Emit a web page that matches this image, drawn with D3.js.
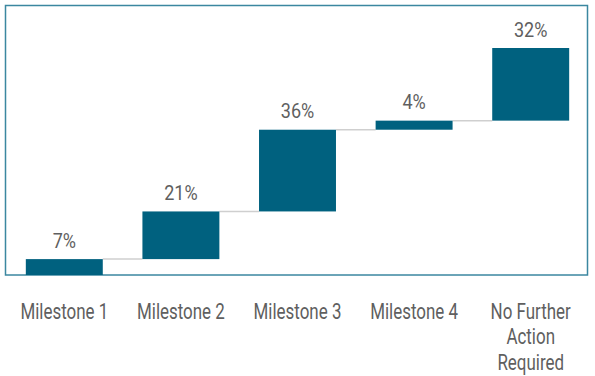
<!DOCTYPE html>
<html lang="en">
<head>
<meta charset="UTF-8">
<title>Waterfall</title>
<script src="https://cdnjs.cloudflare.com/ajax/libs/d3/7.8.5/d3.min.js"></script>
<style>
  body { margin: 0; background: #fff; }
  text { font-family: Roboto, "Noto Sans", sans-serif; font-weight: 400; fill: #5f5f5f; }
</style>
</head>
<body>
<div id="chart"></div>
<script>
  var categories = ["Milestone 1", "Milestone 2", "Milestone 3", "Milestone 4", "No Further Action Required"];
  var catLines = [["Milestone 1"], ["Milestone 2"], ["Milestone 3"], ["Milestone 4"], ["No Further", "Action", "Required"]];
  var values = [7, 21, 36, 4, 32];

  var width = 595, height = 376;

  // running totals for the floating bars
  var start = 0;
  var steps = values.map(function (v, i) {
    var s = { cat: categories[i], v: v, y0: start, y1: start + v };
    start += v;
    return s;
  });

  var x = d3.scaleBand()
    .domain(categories)
    .range([6, 589])
    .paddingInner(0.34)
    .paddingOuter(0.17);

  var y = d3.scaleLinear()
    .domain([0, 100])
    .range([275, 48]);

  var svg = d3.select("#chart")
    .append("svg")
    .attr("width", width)
    .attr("height", height);

  // frame
  svg.append("rect")
    .attr("x", 5.5)
    .attr("y", 5.5)
    .attr("width", 582)
    .attr("height", 269.5)
    .attr("fill", "none")
    .attr("stroke", "#3b87a0")
    .attr("stroke-width", 1.5);

  // connectors
  svg.selectAll("line.conn")
    .data(steps.slice(0, -1))
    .enter()
    .append("line")
    .attr("class", "conn")
    .attr("x1", function (d) { return x(d.cat) + x.bandwidth(); })
    .attr("x2", function (d, i) { return x(categories[i + 1]); })
    .attr("y1", function (d) { return y(d.y1); })
    .attr("y2", function (d) { return y(d.y1); })
    .attr("stroke", "#cfcfcf")
    .attr("stroke-width", 1.5);

  svg.selectAll("rect.bar")
    .data(steps)
    .enter()
    .append("rect")
    .attr("class", "bar")
    .attr("x", function (d) { return x(d.cat); })
    .attr("width", x.bandwidth())
    .attr("y", function (d) { return y(d.y1); })
    .attr("height", function (d) { return y(d.y0) - y(d.y1); })
    .attr("fill", "#00617f");

  svg.selectAll("text.val")
    .data(steps)
    .enter()
    .append("text")
    .attr("class", "val")
    .attr("transform", function (d) {
      return "translate(" + (x(d.cat) + x.bandwidth() / 2) + "," + (y(d.y1) - 11.5) + ") scale(0.88,1)";
    })
    .attr("text-anchor", "middle")
    .attr("font-size", 20.5)
    .text(function (d) { return d.v + "%"; });

  // category labels
  var lab = svg.selectAll("text.cat")
    .data(categories)
    .enter()
    .append("text")
    .attr("class", "cat")
    .attr("text-anchor", "middle")
    .attr("font-size", 22)
    .attr("transform", function (d) {
      return "translate(" + (x(d) + x.bandwidth() / 2) + ",319) scale(0.77,1)";
    });

  lab.selectAll("tspan")
    .data(function (d, i) { return catLines[i]; })
    .enter()
    .append("tspan")
    .attr("x", 0)
    .attr("dy", function (d, i) { return i === 0 ? 0 : 25.5; })
    .text(function (d) { return d; });
</script>
</body>
</html>
